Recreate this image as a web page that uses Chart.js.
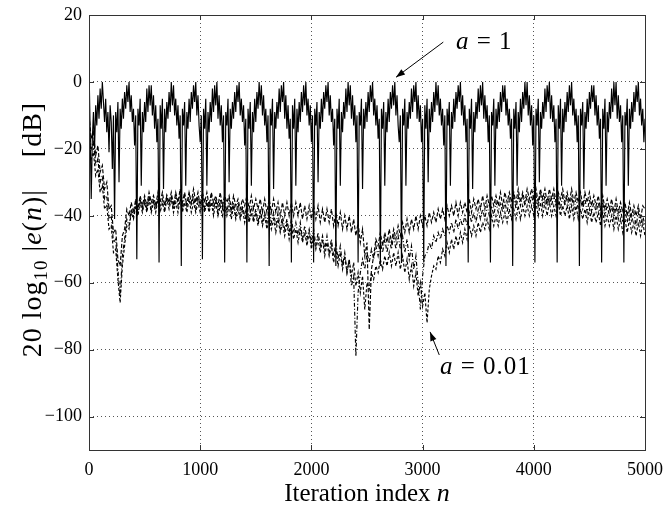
<!DOCTYPE html>
<html><head><meta charset="utf-8">
<script src="https://cdn.jsdelivr.net/npm/chart.js@4.4.1/dist/chart.umd.min.js"></script>
<style>html,body{margin:0;padding:0;background:#fff}#wrap{width:665px;height:508px;position:relative}</style>
</head><body><div id="wrap"><canvas id="c"></canvas></div>
<script>
// ---------------- data ----------------
const xTicks = [0, 1000, 2000, 3000, 4000, 5000];
const yTicks = [-100, -80, -60, -40, -20, 0, 20];
const solidStep = 10;   // iteration spacing of samples in errA1
const dashStep = 20;    // iteration spacing of samples in the dashed series

// a = 1 (solid), one row per period starting at each deep notch
const errA1 = [
 5,-14,-35,-17,-9,-20,-7,-13,-4,-11,-2,-8,0,-6,-12,-5,-15,-9,-21,-7,-12,-26,-10,
 -41,-9,-15,-6,-30,-8,-14,-5,-11,-3,-8,-1,-6,0,-9,-4,-12,-8,-19,-10,
 -53,-8,-13,-5,-31,-9,-15,-6,-12,-2,-9,-1,-7,-1,-10,-4,-14,-7,-18,-11,
 -54,-7,-14,-5,-32,-8,-15,-6,-11,-3,-9,0,-7,-1,-10,-5,-13,-7,-17,-10,
 -55,-8,-13,-6,-31,-9,-14,-5,-12,-3,-8,-1,-6,0,-10,-4,-13,-18,-10,
 -53,-8,-14,-5,-31,-9,-15,-6,-12,-2,-9,-1,-7,0,-11,-4,-13,-7,-18,-10,
 -54,-9,-13,-5,-30,-8,-14,-6,-11,-3,-9,-1,-6,0,-10,-5,-12,-7,-19,-11,
 -54,-8,-14,-6,-31,-9,-15,-5,-12,-3,-8,0,-7,-1,-10,-4,-13,-8,-18,-10,
 -55,-8,-13,-5,-32,-9,-14,-6,-11,-2,-9,-1,-6,0,-11,-4,-14,-7,-17,-11,
 -54,-7,-14,-5,-31,-8,-15,-6,-12,-3,-9,-1,-7,0,-10,-5,-13,-7,-18,-10,
 -54,-8,-13,-6,-30,-9,-14,-5,-12,-3,-8,-1,-6,0,-10,-4,-12,-8,-19,-11,
 -55,-8,-14,-5,-31,-9,-15,-6,-11,-2,-9,0,-7,-1,-11,-4,-13,-7,-18,-10,
 -54,-9,-13,-5,-32,-8,-14,-6,-12,-3,-9,-1,-6,0,-10,-5,-13,-7,-17,-11,
 -55,-8,-14,-6,-31,-9,-15,-5,-12,-3,-8,-1,-7,0,-10,-4,-13,-18,-10,
 -54,-8,-13,-5,-31,-9,-14,-6,-11,-2,-9,-1,-6,0,-11,-4,-12,-7,-18,-11,
 -54,-7,-14,-5,-30,-8,-15,-6,-12,-3,-9,0,-7,-1,-10,-5,-13,-8,-19,-10,
 -55,-8,-13,-6,-31,-9,-14,-5,-12,-3,-8,-1,-6,0,-10,-4,-13,-7,-18,-11,
 -54,-8,-14,-5,-32,-9,-15,-6,-11,-2,-9,-1,-7,0,-11,-4,-12,-7,-18,-10,
 -54,-9,-13,-5,-31,-8,-14,-6,-12,-3,-9,-1,-6,-1,-10,-5,-13,-8,-17,-11,
 -55,-8,-14,-6,-31,-9,-15,-5,-12,-3,-8,0,-7,0,-10,-4,-13,-7,-19,-10,
 -54,-8,-13,-5,-30,-9,-14,-6,-11,-2,-9,-1,-6,0,-11,-4,-12,-7,-18,-11,
 -54,-7,-14,-5,-31,-8,-15,-6,-12,-3,-9,-1,-7,0,-10,-5,-13,-8,-18,-10,
 -55,-8,-13,-6,-32,-9,-14,-5,-12,-3,-8,-1,-6,-1,-10,-4,-13,-7,-17,-11,
 -54,-8,-14,-5,-31,-9,-15,-6,-11,-2,-9,0,-7,0,-11,-4,-12,-7,-18,-10,
 -54,-9,-13,-5,-31,-8,-14,-6,-12,-3,-9,-1,-6,0,-10,-5,-13,-8,-18,-11
];

// dashed curves, one row per 200 iterations
const errDashA = [
 -10,-17,-15,-22,-19,-27,-25,-32,-30,-38,
 -37,-45,-44,-53,-55,-46,-44,-38,-40,-36,
 -39,-35,-38,-34,-37,-34,-37,-33,-36,-34,
 -37,-33,-36,-33,-37,-34,-36,-33,-37,-33,
 -36,-32,-36,-33,-37,-33,-36,-32,-36,-33,
 -37,-33,-36,-33,-37,-33,-36,-34,-37,-33,
 -37,-34,-36,-34,-38,-34,-37,-35,-38,-35,
 -37,-34,-38,-34,-38,-35,-38,-35,-39,-35,
 -39,-35,-39,-35,-39,-36,-40,-36,-40,-36,
 -40,-36,-40,-36,-40,-36,-41,-37,-41,-37,
 -41,-37,-41,-37,-42,-38,-42,-38,-42,-38,
 -43,-39,-43,-39,-44,-40,-44,-40,-45,-41,
 -46,-42,-48,-44,-52,-48,-74,-56,-52,-47,
 -49,-45,-49,-45,-48,-44,-48,-44,-47,-43,
 -46,-42,-45,-41,-45,-41,-44,-40,-44,-40,
 -43,-40,-43,-39,-42,-39,-42,-38,-41,-38,
 -41,-37,-40,-37,-40,-36,-40,-36,-39,-36,
 -39,-35,-39,-35,-38,-35,-38,-34,-38,-34,
 -37,-34,-37,-34,-37,-33,-37,-33,-36,-33,
 -36,-33,-36,-32,-36,-33,-36,-32,-35,-32,
 -35,-32,-36,-32,-35,-32,-36,-32,-35,-32,
 -36,-33,-35,-32,-36,-33,-36,-32,-36,-33,
 -36,-33,-37,-33,-36,-33,-37,-34,-37,-34,
 -38,-34,-38,-35,-38,-35,-39,-35,-39,-36,
 -39,-36,-40,-36,-40,-37,-40,-37,-41,-37,
 -38
];
const errDashB = [
 -14,-20,-18,-25,-23,-30,-28,-35,-34,-41,
 -40,-48,-47,-56,-64,-52,-47,-41,-43,-38,
 -40,-36,-39,-35,-38,-35,-38,-34,-38,-35,
 -38,-34,-37,-35,-38,-34,-37,-34,-38,-34,
 -37,-34,-38,-34,-37,-33,-37,-34,-38,-34,
 -37,-34,-38,-35,-38,-34,-38,-35,-39,-35,
 -38,-35,-39,-35,-39,-36,-40,-36,-40,-37,
 -40,-37,-41,-37,-41,-38,-42,-38,-42,-39,
 -42,-38,-42,-39,-43,-39,-44,-40,-44,-41,
 -45,-41,-45,-42,-46,-42,-47,-43,-47,-44,
 -48,-44,-49,-45,-49,-46,-50,-46,-51,-47,
 -52,-48,-53,-49,-55,-51,-57,-53,-61,-58,
 -82,-63,-57,-53,-56,-51,-54,-50,-53,-49,
 -52,-48,-51,-47,-51,-47,-50,-46,-50,-46,
 -50,-46,-51,-47,-53,-49,-56,-52,-60,-68,
 -58,-52,-51,-48,-50,-46,-48,-45,-47,-44,
 -46,-43,-45,-42,-45,-41,-44,-41,-43,-40,
 -43,-39,-42,-39,-42,-38,-41,-38,-41,-37,
 -40,-37,-40,-36,-39,-36,-39,-36,-39,-35,
 -38,-34,-38,-34,-37,-34,-37,-34,-37,-34,
 -37,-34,-37,-33,-37,-34,-37,-34,-37,-34,
 -37,-34,-38,-34,-37,-34,-38,-34,-38,-35,
 -38,-35,-38,-35,-39,-35,-39,-36,-39,-36,
 -40,-36,-40,-37,-40,-37,-41,-37,-41,-38,
 -42,-38,-42,-38,-42,-39,-43,-39,-43,-40,
 -43
];
// a = 0.01
const errDashC = [
 -18,-23,-21,-28,-26,-33,-31,-38,-37,-44,
 -43,-51,-50,-59,-66,-55,-49,-43,-44,-39,
 -41,-37,-40,-36,-39,-36,-39,-35,-39,-36,
 -39,-35,-39,-36,-39,-35,-38,-35,-39,-36,
 -39,-35,-39,-36,-39,-35,-39,-36,-39,-36,
 -39,-36,-39,-36,-39,-36,-40,-36,-40,-37,
 -40,-37,-40,-37,-41,-37,-41,-38,-41,-38,
 -42,-38,-42,-39,-42,-39,-43,-39,-43,-40,
 -44,-40,-44,-41,-45,-41,-45,-42,-46,-42,
 -47,-43,-47,-44,-48,-44,-48,-45,-49,-45,
 -50,-46,-50,-47,-51,-47,-52,-48,-52,-49,
 -54,-50,-55,-51,-56,-52,-57,-53,-58,-54,
 -61,-57,-63,-58,-68,-60,-62,-57,-59,-55,
 -57,-53,-56,-52,-55,-51,-55,-51,-55,-51,
 -56,-52,-57,-53,-59,-55,-61,-57,-64,-60,
 -67,-63,-72,-62,-58,-55,-56,-52,-54,-50,
 -52,-48,-51,-47,-50,-46,-49,-45,-48,-44,
 -47,-43,-46,-43,-46,-42,-45,-42,-44,-41,
 -44,-40,-43,-40,-43,-39,-42,-39,-42,-38,
 -41,-38,-41,-37,-41,-37,-40,-37,-40,-37,
 -40,-36,-40,-36,-40,-36,-40,-36,-40,-37,
 -40,-36,-40,-37,-40,-37,-41,-37,-41,-37,
 -41,-38,-41,-38,-42,-38,-42,-39,-42,-39,
 -43,-39,-43,-40,-43,-40,-44,-40,-44,-41,
 -45,-41,-45,-41,-45,-42,-46,-42,-46,-42,
 -46
];

// ---------------- chart ----------------
const SERIF = '"Liberation Serif","DejaVu Serif",serif';
const toPts = (ys, step) => ys.map((y, i) => ({ x: i * step, y }));

function richWidth(ctx, parts) {
  let w = 0;
  for (const p of parts) { ctx.font = p.f; w += ctx.measureText(p.t).width; }
  return w;
}
function drawRich(ctx, parts, x, y) {
  let cx = x - richWidth(ctx, parts) / 2;
  for (const p of parts) {
    ctx.font = p.f;
    ctx.fillText(p.t, cx, y + (p.dy || 0));
    cx += ctx.measureText(p.t).width;
  }
}
function leftRich(ctx, parts, x, y) {
  let cx = x;
  for (const p of parts) { ctx.font = p.f; ctx.fillText(p.t, cx, y); cx += ctx.measureText(p.t).width; }
}
function arrow(ctx, x1, y1, x2, y2) {
  ctx.beginPath(); ctx.moveTo(x1, y1); ctx.lineTo(x2, y2); ctx.stroke();
  const a = Math.atan2(y2 - y1, x2 - x1), L = 9, W = 3.2;
  ctx.beginPath();
  ctx.moveTo(x2, y2);
  ctx.lineTo(x2 - L * Math.cos(a) + W * Math.sin(a), y2 - L * Math.sin(a) - W * Math.cos(a));
  ctx.lineTo(x2 - L * Math.cos(a) - W * Math.sin(a), y2 - L * Math.sin(a) + W * Math.cos(a));
  ctx.closePath(); ctx.fill();
}

const decor = {
  id: 'decor',
  beforeDraw(chart) {
    const c = chart.ctx; c.save(); c.fillStyle = '#fff'; c.fillRect(0, 0, chart.width, chart.height); c.restore();
  },
  afterDraw(chart) {
    const ctx = chart.ctx, a = chart.chartArea, sx = chart.scales.x, sy = chart.scales.y;
    ctx.save();
    // frame + inward ticks
    ctx.strokeStyle = '#333'; ctx.lineWidth = 1;
    ctx.strokeRect(Math.round(a.left) + 0.5, Math.round(a.top) + 0.5, Math.round(a.right - a.left), Math.round(a.bottom - a.top));
    ctx.beginPath();
    for (const v of xTicks) {
      const px = Math.round(sx.getPixelForValue(v)) + 0.5;
      ctx.moveTo(px, a.bottom); ctx.lineTo(px, a.bottom - 5);
      ctx.moveTo(px, a.top); ctx.lineTo(px, a.top + 5);
    }
    for (const v of yTicks) {
      const py = Math.round(sy.getPixelForValue(v)) + 0.5;
      ctx.moveTo(a.left, py); ctx.lineTo(a.left + 5, py);
      ctx.moveTo(a.right, py); ctx.lineTo(a.right - 5, py);
    }
    ctx.stroke();

    ctx.fillStyle = '#000'; ctx.strokeStyle = '#000';
    ctx.textBaseline = 'alphabetic';
    // x title
    drawRich(ctx, [
      { t: 'Iteration index ', f: `25px ${SERIF}` },
      { t: 'n', f: `italic 26px ${SERIF}` }
    ], (a.left + a.right) / 2, 501);
    // y title
    ctx.save();
    ctx.translate(41, (a.top + a.bottom) / 2 - 3);
    ctx.rotate(-Math.PI / 2);
    ctx.letterSpacing = '1px';
    drawRich(ctx, [
      { t: '20 log', f: `28px ${SERIF}` },
      { t: '10', f: `19px ${SERIF}`, dy: 6 },
      { t: ' |', f: `28px ${SERIF}` },
      { t: 'e', f: `italic 28px ${SERIF}` },
      { t: '(', f: `28px ${SERIF}` },
      { t: 'n', f: `italic 28px ${SERIF}` },
      { t: ')|', f: `28px ${SERIF}` },
      { t: '    [dB]', f: `28px ${SERIF}` }
    ], 0, 0);
    ctx.restore();

    // annotations
    ctx.lineWidth = 1;
    ctx.letterSpacing = '1px';
    arrow(ctx, sx.getPixelForValue(3186), sy.getPixelForValue(11.9), sx.getPixelForValue(2761), sy.getPixelForValue(1.4));
    leftRich(ctx, [
      { t: 'a', f: `italic 25px ${SERIF}` },
      { t: ' = 1', f: `25px ${SERIF}` }
    ], sx.getPixelForValue(3300), sy.getPixelForValue(9.9));
    arrow(ctx, sx.getPixelForValue(3150), sy.getPixelForValue(-81.6), sx.getPixelForValue(3067), sy.getPixelForValue(-74.7));
    leftRich(ctx, [
      { t: 'a', f: `italic 25px ${SERIF}` },
      { t: ' = 0.01', f: `25px ${SERIF}` }
    ], sx.getPixelForValue(3156), sy.getPixelForValue(-87.3));
    ctx.letterSpacing = '0px';
    ctx.restore();
  }
};

new Chart(document.getElementById('c'), {
  type: 'line',
  data: {
    datasets: [
      { label: 'a = 1', data: toPts(errA1, solidStep), borderColor: '#000', borderWidth: 1.15 },
      { label: 'dashed 1', data: toPts(errDashA, dashStep), borderColor: '#000', borderWidth: 1.15, borderDash: [4, 2] },
      { label: 'dashed 2', data: toPts(errDashB, dashStep), borderColor: '#000', borderWidth: 1.15, borderDash: [4, 2, 1, 2] },
      { label: 'a = 0.01', data: toPts(errDashC, dashStep), borderColor: '#000', borderWidth: 1.15, borderDash: [3, 2] }
    ]
  },
  options: {
    responsive: true, maintainAspectRatio: false, animation: false,
    parsing: false, normalized: true,
    layout: { padding: { left: 0, right: 20, top: 15, bottom: 0 } },
    plugins: { legend: { display: false }, tooltip: { enabled: false } },
    elements: { point: { radius: 0 }, line: { tension: 0, fill: false } },
    scales: {
      x: {
        type: 'linear', min: 0, max: 5000,
        afterBuildTicks: s => { s.ticks = xTicks.map(v => ({ value: v })); },
        afterFit: s => { s.height = 58; s.paddingRight = 0; s.paddingLeft = 0; },
        ticks: { font: { family: SERIF, size: 18 }, color: '#000', padding: 9, maxRotation: 0, autoSkip: false,
                 callback: v => String(v) },
        grid: { color: '#555', lineWidth: 1, drawTicks: false },
        border: { display: false, dash: [1, 3] }
      },
      y: {
        type: 'linear', min: -110, max: 20,
        afterBuildTicks: s => { s.ticks = yTicks.map(v => ({ value: v })); },
        afterFit: s => { s.width = 89; s.paddingTop = 0; s.paddingBottom = 0; },
        ticks: { font: { family: SERIF, size: 18 }, color: '#000', padding: 7, autoSkip: false,
                 callback: v => String(v).replace('-', '\u2212') },
        grid: { color: '#555', lineWidth: 1, drawTicks: false },
        border: { display: false, dash: [1, 3] }
      }
    }
  },
  plugins: [decor]
});
</script>
</body></html>
